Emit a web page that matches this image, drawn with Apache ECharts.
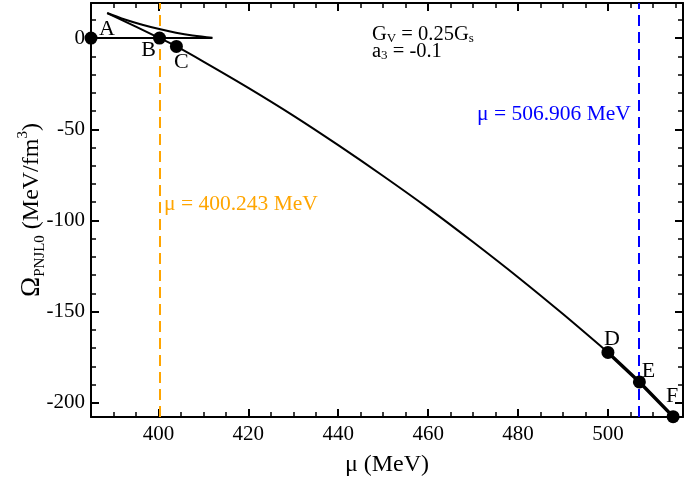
<!DOCTYPE html>
<html><head><meta charset="utf-8">
<script src="https://cdn.jsdelivr.net/npm/echarts@6/dist/echarts.min.js"></script>
<style>html,body{margin:0;padding:0;background:#fff}#c{width:685px;height:478px}</style>
</head><body><div id="c"></div>
<script>
// ---- data ----
const xMajorTicks = [400, 420, 440, 460, 480, 500];
const xMinorTicks = [385, 390, 395, 400, 405, 410, 415, 420, 425, 430, 435, 440, 445, 450, 455, 460, 465, 470, 475, 480, 485, 490, 495, 500, 505, 510, 515];
const yMajorTicks = [0, -50, -100, -150, -200];
const yMinorTicks = [10, 0, -10, -20, -30, -40, -50, -60, -70, -80, -90, -100, -110, -120, -130, -140, -150, -160, -170, -180, -190, -200];
const hadronicBranch = [[385, 0], [412, 0]];
const unstableBranch = [[412, 0.2], [407.6, 1.4], [403.9, 2.9], [400.2, 4.9], [396.4, 7.3], [392.7, 10.0], [388.6, 13.7]];
const quarkBranch = [[388.6, 13.7], [400.24, 0], [404, -4.6], [410, -12.9], [420, -27.3], [430, -42.5], [440, -58.7], [450, -75.6], [460, -93.2], [470, -111.8], [480, -131.1], [490, -151.3], [500, -172.3]];
const highBranch = [[500, -172.3], [507, -188.5], [514.5, -207.5]];
const pointNames = ['A', 'B', 'C', 'D', 'E', 'F'];
const pointMu = [385, 400.24, 404, 500, 507, 514.5];
const pointOmega = [0, 0, -4.6, -172.3, -188.5, -207.5];
const transitionMu = [400.243, 506.906];
const transitionText = ['μ = 400.243 MeV', 'μ = 506.906 MeV'];

// ---- styles ----
const FONT = '"Liberation Serif", "Times New Roman", serif';
const xMin = 385, xMax = 516.7, yMin = -207.7, yMax = 19.2;
const labelOffsets = [[16, -9], [-11, 12], [5, 16], [4, -13], [9, -11], [-1, -20]];

function xAx(position, ticks, len, w, main) {
  return {
    type: 'value', position, min: xMin, max: xMax,
    axisLine: { show: main, onZero: false, lineStyle: { color: '#000', width: 2 } },
    axisTick: { show: true, inside: true, length: len, customValues: ticks, lineStyle: { color: '#000', width: w } },
    axisLabel: (main && position === 'bottom') ? { show: true, customValues: xMajorTicks, fontFamily: FONT, fontSize: 21, color: '#000', margin: 7 } : { show: false },
    splitLine: { show: false },
    name: (main && position === 'bottom') ? 'μ (MeV)' : '',
    nameLocation: 'middle', nameGap: 36, nameMoveOverlap: false,
    nameTextStyle: { fontFamily: FONT, fontSize: 24, color: '#000' }
  };
}
function yAx(position, ticks, len, w, main) {
  return {
    type: 'value', position, min: yMin, max: yMax,
    axisLine: { show: main, onZero: false, lineStyle: { color: '#000', width: 2 } },
    axisTick: { show: true, inside: true, length: len, customValues: ticks, lineStyle: { color: '#000', width: w } },
    axisLabel: (main && position === 'left') ? { show: true, customValues: yMajorTicks, fontFamily: FONT, fontSize: 21, color: '#000', margin: 6 } : { show: false },
    splitLine: { show: false },
    name: (main && position === 'left') ? '{o|Ω}{s|PNJL0}{n| (MeV/fm}{p|3}{n|)}' : '',
    nameLocation: 'middle', nameGap: 43, nameRotate: 90, nameMoveOverlap: false,
    nameTextStyle: {
      fontFamily: FONT, fontSize: 24, color: '#000',
      rich: {
        o: { fontFamily: FONT, fontSize: 27, lineHeight: 32, color: '#000', verticalAlign: 'middle' },
        n: { fontFamily: FONT, fontSize: 24, lineHeight: 32, color: '#000', verticalAlign: 'middle' },
        s: { fontFamily: FONT, fontSize: 15, lineHeight: 15, color: '#000', verticalAlign: 'bottom' },
        p: { fontFamily: FONT, fontSize: 15, lineHeight: 15, color: '#000', verticalAlign: 'top' }
      }
    }
  };
}

const chart = echarts.init(document.getElementById('c'), null, { renderer: 'canvas' });
const lineBase = { type: 'line', showSymbol: false, symbol: 'none', xAxisIndex: 0, yAxisIndex: 0, z: 3, silent: true, animation: false };

chart.setOption({
  animation: false,
  backgroundColor: '#fff',
  grid: { left: 91, right: 2, top: 3, bottom: 61, containLabel: false, outerBoundsMode: 'none' },
  xAxis: [
    xAx('bottom', xMajorTicks, 8, 2, true),
    xAx('bottom', xMinorTicks, 5, 1.5, false),
    xAx('top', xMajorTicks, 8, 2, true),
    xAx('top', xMinorTicks, 5, 1.5, false)
  ],
  yAxis: [
    yAx('left', yMajorTicks, 8, 2, true),
    yAx('left', yMinorTicks, 5, 1.5, false),
    yAx('right', yMajorTicks, 8, 2, true),
    yAx('right', yMinorTicks, 5, 1.5, false)
  ],
  series: [
    Object.assign({}, lineBase, { data: hadronicBranch, lineStyle: { color: '#000', width: 2 } }),
    Object.assign({}, lineBase, { data: unstableBranch, smooth: 0.4, lineStyle: { color: '#000', width: 2 } }),
    Object.assign({}, lineBase, { data: quarkBranch, smooth: 0.3, lineStyle: { color: '#000', width: 2 } }),
    Object.assign({}, lineBase, { data: highBranch, lineStyle: { color: '#000', width: 3.5 } }),
    {
      type: 'line', data: [], xAxisIndex: 0, yAxisIndex: 0, silent: true,
      markLine: {
        silent: true, symbol: 'none', animation: false,
        label: { show: false },
        data: [
          { xAxis: transitionMu[0], lineStyle: { color: '#FFA500', width: 2, type: [11, 6] } },
          { xAxis: transitionMu[1], lineStyle: { color: '#0000FF', width: 2, type: [11, 6] } }
        ]
      }
    },
    {
      type: 'scatter', xAxisIndex: 0, yAxisIndex: 0, z: 5, clip: false, silent: true,
      symbol: 'circle', symbolSize: 13,
      itemStyle: { color: '#000', opacity: 1 },
      data: pointNames.map((n, i) => ({
        name: n, value: [pointMu[i], pointOmega[i]],
        label: { show: true, formatter: n, position: 'inside', offset: labelOffsets[i], fontFamily: FONT, fontSize: 22, color: '#000' }
      }))
    }
  ],
  graphic: [
    { type: 'text', left: 372, top: 24, silent: true,
      style: { text: '{n|G}{s|V}{n| = 0.25G}{s|s}', rich: {
        n: { fontFamily: FONT, fontSize: 20.5, lineHeight: 22, fill: '#000', verticalAlign: 'middle' },
        s: { fontFamily: FONT, fontSize: 13, lineHeight: 12, fill: '#000', verticalAlign: 'bottom' } } } },
    { type: 'text', left: 372, top: 41, silent: true,
      style: { text: '{n|a}{s|3}{n| = -0.1}', rich: {
        n: { fontFamily: FONT, fontSize: 20.5, lineHeight: 22, fill: '#000', verticalAlign: 'middle' },
        s: { fontFamily: FONT, fontSize: 13, lineHeight: 12, fill: '#000', verticalAlign: 'bottom' } } } },
    { type: 'text', left: 164, top: 193, silent: true,
      style: { text: transitionText[0], font: '21.5px ' + FONT, fill: '#FFA500' } },
    { type: 'text', left: 477, top: 103, silent: true,
      style: { text: transitionText[1], font: '21.5px ' + FONT, fill: '#0000FF' } }
  ]
});
</script></body></html>
